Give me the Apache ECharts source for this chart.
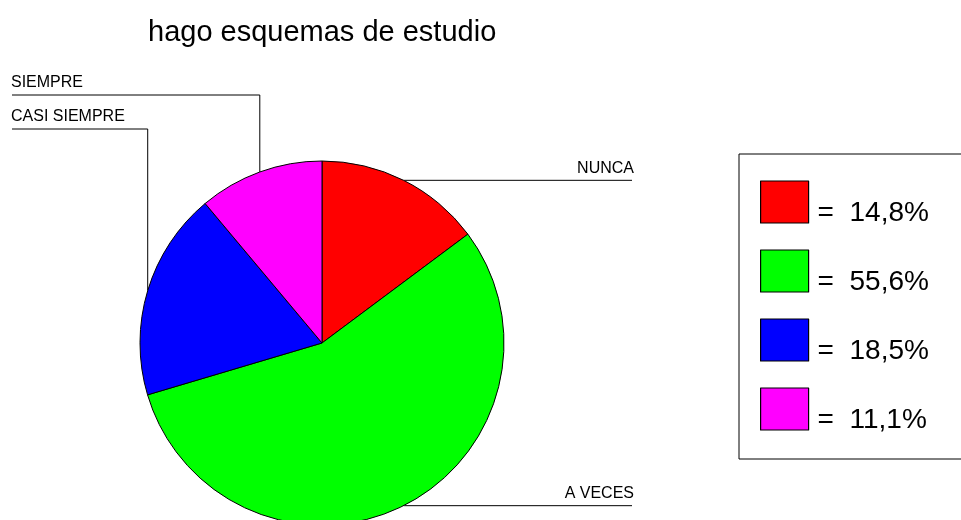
<!DOCTYPE html>
<html>
<head>
<meta charset="utf-8">
<script src="https://cdn.jsdelivr.net/npm/echarts@6/dist/echarts.min.js"></script>
<style>
html,body{margin:0;padding:0;background:#fff;}
#chart{width:961px;height:520px;}
</style>
</head>
<body>
<div id="chart"></div>
<script>
// ---- data ----
var titleText = 'hago esquemas de estudio';
var categories = ['NUNCA', 'A VECES', 'CASI SIEMPRE', 'SIEMPRE'];
var percents = [14.8, 55.6, 18.5, 11.1];
var colors = ['#ff0000', '#00ff00', '#0000ff', '#ff00ff'];
// label placement (side, line end x, line y for left labels)
var labelSide = ['right', 'right', 'left', 'left'];
var leftLineY = [null, null, 129, 95];
var rightLineEnd = 632;
var leftLineEnd = 12;

var FONT = '"Liberation Sans", Arial, sans-serif';

function fmtPct(v) { return v.toFixed(1).replace('.', ',') + '%'; }

var pieData = categories.map(function (c, i) {
  return { name: c, value: percents[i], itemStyle: { color: colors[i] } };
});

var chart = echarts.init(document.getElementById('chart'), null, { renderer: 'canvas' });
chart.setOption({
  animation: false,
  backgroundColor: '#ffffff',
  title: {
    text: titleText,
    left: 148,
    top: 18,
    padding: 0,
    textStyle: { fontFamily: FONT, fontSize: 29, fontWeight: 'normal', color: '#000' }
  },
  legend: {
    orient: 'vertical',
    left: 739,
    top: 154,
    padding: [23, 40, 25, 21],
    borderColor: '#000',
    borderWidth: 1,
    itemWidth: 48,
    itemHeight: 42,
    itemGap: 19,
    icon: 'rect',
    selectedMode: false,
    itemStyle: { borderColor: '#000', borderWidth: 1.2 },
    data: categories,
    formatter: function (name) {
      var i = categories.indexOf(name);
      return '{t|=  ' + fmtPct(percents[i]) + '}';
    },
    textStyle: {
      fontFamily: FONT,
      fontSize: 28,
      color: '#000',
      rich: {
        t: { fontFamily: FONT, fontSize: 28, color: '#000', lineHeight: 30, padding: [22, 0, 0, 4] }
      }
    }
  },
  series: [{
    type: 'pie',
    center: [322, 343],
    radius: 182,
    startAngle: 90,
    clockwise: true,
    data: pieData,
    itemStyle: { borderColor: '#000', borderWidth: 1 },
    emphasis: { disabled: true },
    label: {
      show: true,
      position: 'outside',
      fontFamily: FONT,
      fontSize: 16,
      color: '#000',
      overflow: 'none',
      formatter: '{b}'
    },
    labelLine: {
      show: true,
      length: 10,
      length2: 10,
      lineStyle: { color: '#000', width: 1 }
    },
    labelLayout: function (p) {
      var pts = p.labelLinePoints;
      if (!pts) return {};
      var e = pts[0];
      var i = p.dataIndex;
      if (labelSide[i] === 'right') {
        return {
          x: rightLineEnd + 2,
          y: e[1] - 4,
          align: 'right',
          verticalAlign: 'bottom',
          labelLinePoints: [[e[0], e[1]], [e[0] + 1, e[1]], [rightLineEnd, e[1]]]
        };
      }
      var ly = leftLineY[i];
      return {
        x: leftLineEnd - 1,
        y: ly - 4,
        align: 'left',
        verticalAlign: 'bottom',
        labelLinePoints: [[e[0], e[1]], [e[0], ly], [leftLineEnd, ly]]
      };
    }
  }]
});
</script>
</body>
</html>
